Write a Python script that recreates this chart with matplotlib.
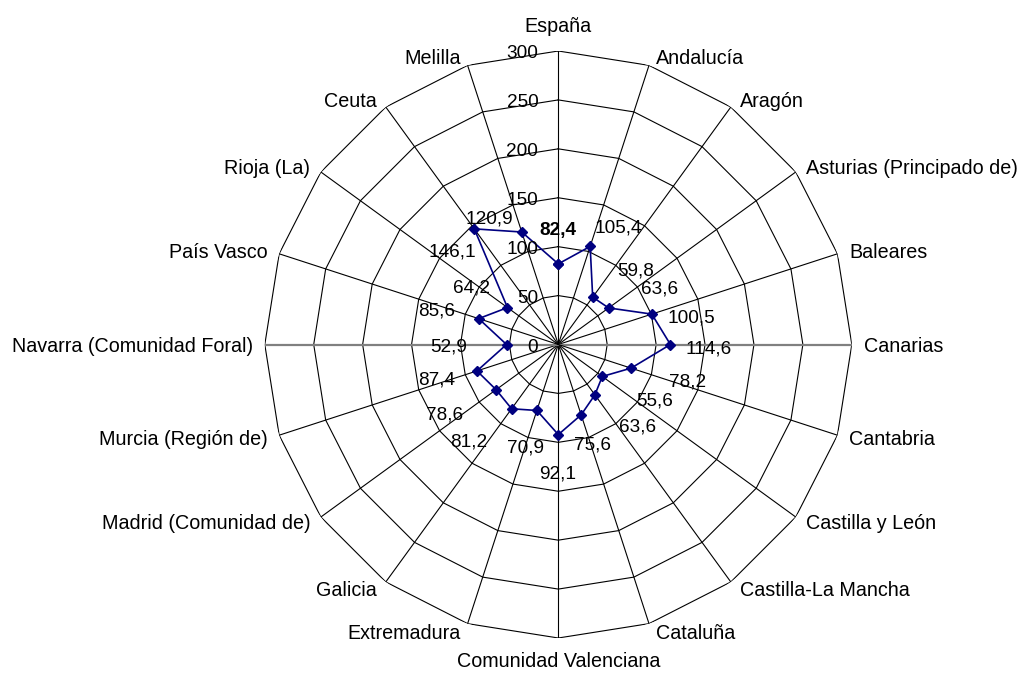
import numpy as np
import matplotlib
matplotlib.use("Agg")
import matplotlib.pyplot as plt

# Regions shown around the radar, clockwise from the top
regions = [
    "España", "Andalucía", "Aragón", "Asturias (Principado de)", "Baleares",
    "Canarias", "Cantabria", "Castilla y León", "Castilla-La Mancha", "Cataluña",
    "Comunidad Valenciana", "Extremadura", "Galicia", "Madrid (Comunidad de)",
    "Murcia (Región de)", "Navarra (Comunidad Foral)", "País Vasco", "Rioja (La)",
    "Ceuta", "Melilla",
]
values = [
    82.4, 105.4, 59.8, 63.6, 100.5,
    114.6, 78.2, 55.6, 63.6, 75.6,
    92.1, 70.9, 81.2, 78.6, 87.4,
    52.9, 85.6, 64.2, 146.1, 120.9,
]
value_ticks = [0, 50, 100, 150, 200, 250, 300]

# Placement of each value label relative to its marker (pixels, x right / y down)
label_offsets = [
    (0, -36), (28, -21), (43, -29), (51, -21), (40, 1),
    (38, 2), (57, 11), (52, 22), (43, 30), (11, 28),
    (-1, 37), (-11, 35), (-43, 31), (-52, 23), (-40, 7),
    (-58, 0), (-42, -10), (-36, -22), (-22, 21), (-32, -16),
]

FONT = "Liberation Sans"
W, H = 1020, 673
cx, cy, R = 558.3, 344.5, 293.5          # centre and outer radius in pixels
rmax = value_ticks[-1]

fig = plt.figure(figsize=(W / 100, H / 100), dpi=100)
ax = fig.add_axes([(cx - R) / W, (H - cy - R) / H, 2 * R / W, 2 * R / H],
                  projection="polar")
ax.set_theta_zero_location("N")
ax.set_theta_direction(-1)
ax.set_ylim(0, rmax)
ax.grid(False)
ax.set_xticks([])
ax.set_yticks([])
ax.spines["polar"].set_visible(False)
ax.patch.set_visible(False)

n = len(regions)
theta = np.arange(n) * 2 * np.pi / n
theta_closed = np.append(theta, theta[0])

# Polygonal gridlines
for r in value_ticks[1:]:
    ax.plot(theta_closed, [r] * (n + 1), color="black", lw=0.8, zorder=1)

# Spokes
for i, t in enumerate(theta):
    horizontal = i in (n // 4, 3 * n // 4)
    ax.plot([t, t], [0, rmax],
            color="#808080" if horizontal else "black",
            lw=1.6 if horizontal else 0.8, zorder=1)

# Data series
vals_closed = values + values[:1]
ax.plot(theta_closed, vals_closed, color="#000080", lw=1.2,
        marker="D", markersize=5.5, zorder=3)

# Value labels
for i, (t, v) in enumerate(zip(theta, values)):
    dx, dy = label_offsets[i]
    ax.annotate(f"{v:.1f}".replace(".", ","), xy=(t, v),
                xytext=(dx, -(dy + 7)), textcoords="offset pixels",
                ha="center", va="baseline", fontsize=13.7, family=FONT,
                fontweight="bold" if i == 0 else "normal", zorder=4)

# Radial axis tick labels
for v in value_ticks:
    ax.annotate(str(v), xy=(0, v), xytext=(-20, -7), textcoords="offset pixels",
                ha="right", va="baseline", fontsize=13.7, family=FONT, zorder=4)

# Category labels around the outside
for t, name in zip(theta, regions):
    s, c = np.sin(t), np.cos(t)
    if abs(s) < 1e-6:
        ha = "center"
        ox = 0
        oy = -25.7 if c > 0 else 22
    else:
        ha = "left" if s > 0 else "right"
        ox = np.sign(s) * (5 + 7 * abs(s))
        oy = -9 * c
    ax.annotate(name, xy=(t, rmax), xytext=(ox, -(oy + 7)),
                textcoords="offset pixels", ha=ha, va="baseline",
                fontsize=14.2, family=FONT, annotation_clip=False)

fig.savefig("out.png", dpi=100)
